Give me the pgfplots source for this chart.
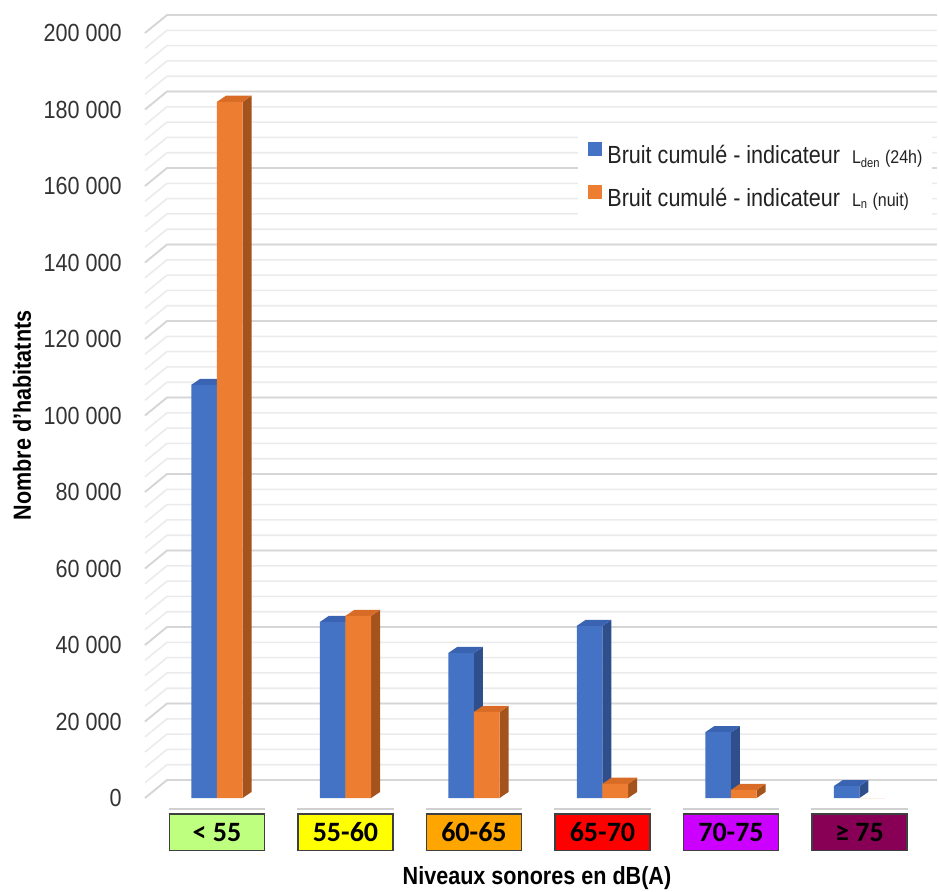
\documentclass[border=0pt]{standalone}
\usepackage{fontspec}
\setmainfont{Liberation Sans}[FakeStretch=0.87]
\newfontfamily\catfont{Carlito}
\usepackage{pgfplots}
\usepackage{pgfplotstable}
\pgfplotsset{compat=1.18}

% colours
\definecolor{barblue}{HTML}{4472C4}
\definecolor{bluetop}{HTML}{3A63B2}
\definecolor{blueside}{HTML}{2E4F8C}
\definecolor{barorange}{HTML}{ED7D31}
\definecolor{orangetop}{HTML}{D86C26}
\definecolor{orangeside}{HTML}{A5531D}
\definecolor{gridmajor}{HTML}{D6D6D6}
\definecolor{gridminor}{HTML}{EBEBEB}
\definecolor{floorline}{HTML}{D0D0D0}
\definecolor{ticktext}{HTML}{333333}
\definecolor{legendtext}{HTML}{222222}
\definecolor{boxline}{HTML}{3F3F3F}
\definecolor{cat1}{HTML}{BFFF80}
\definecolor{cat2}{HTML}{FFFF00}
\definecolor{cat3}{HTML}{FFA500}
\definecolor{cat4}{HTML}{FF0000}
\definecolor{cat5}{HTML}{CC00FF}
\definecolor{cat6}{HTML}{880055}

\newcommand\chartfont{\fontsize{12.4}{14.5}\selectfont}
\newcommand\indfont{\fontsize{9.2}{11}\selectfont}

% population exposed per noise band (Lden and Ln)
\pgfplotstableread{
x lden ln
0 108000 182000
1 46000 47600
2 37900 22500
3 45000 3700
4 17200 2100
5 3100 0
}\noisetable

% coloured category label with the floor edge above it
\newcommand\catbox[2]{%
  \vbox{\offinterlineskip
    \hbox{\textcolor{floorline}{\rule{48.25pt}{0.8pt}}}%
    \vskip 1.7pt
    \hbox{\setlength\fboxsep{0pt}\setlength\fboxrule{0.75pt}%
      \fcolorbox{boxline}{#1}{\makebox[46.75pt]{\rule[-4.35pt]{0pt}{17.5pt}%
        \catfont\bfseries\fontsize{14}{16}\selectfont\color{black}#2}}}}}

% top and side faces of one bar: #1 row, #2 column, #3 left edge offset, #4 colour prefix
\newcommand\depthfaces[4]{%
  \pgfplotstablegetelem{#1}{#2}\of\noisetable
  \edef\barval{\pgfplotsretval}%
  \ifnum\barval>0
    \pgfmathsetmacro\xa{#1+#3}%
    \pgfmathsetmacro\xb{#1+#3+0.2}%
    \pgfmathsetmacro\xc{\xa+0.07}%
    \pgfmathsetmacro\xd{\xb+0.07}%
    \edef\backval{\the\numexpr\barval+1600\relax}%
    \edef\drawfaces{%
      \noexpand\addplot[forget plot, draw=none, fill=#4side]
        coordinates {(\xb,0) (\xd,1600) (\xd,\backval) (\xb,\barval)};%
      \noexpand\addplot[forget plot, draw=none, fill=#4top]
        coordinates {(\xa,\barval) (\xb,\barval) (\xd,\backval) (\xc,\backval)};%
    }\drawfaces
  \fi
}

\begin{document}
\begin{tikzpicture}[font=\chartfont]
\begin{axis}[
  at={(72.5pt,46.5pt)}, anchor=south west,
  width=385pt, height=382.5pt, scale only axis,
  xmin=-0.56, xmax=5.432, ymin=0, ymax=200000,
  clip=false,
  axis line style={draw=none},
  major tick length=0pt, minor tick length=0pt,
  xtick={0,1,2,3,4,5},
  xticklabels={\catbox{cat1}{< 55},\catbox{cat2}{55-60},\catbox{cat3}{60-65},
               \catbox{cat4}{65-70},\catbox{cat5}{70-75},\catbox{cat6}{≥ 75}},
  xticklabel style={anchor=north, inner sep=0pt, yshift=-5pt},
  ytick={0,20000,40000,60000,80000,100000,120000,140000,160000,180000,200000},
  yticklabels={0,20 000,40 000,60 000,80 000,100 000,120 000,140 000,160 000,180 000,200 000},
  yticklabel style={anchor=east, inner sep=0pt, xshift=-11.5pt, text=ticktext, font=\chartfont},
  scaled y ticks=false,
  xlabel={Niveaux sonores en dB(A)},
  ylabel={Nombre d\symbol{39}habitatnts},
  every axis x label/.style={at={(rel axis cs:0.5,0)}, xshift=3.5pt, yshift=-40pt,
    anchor=center, font=\chartfont\bfseries},
  every axis y label/.style={at={(rel axis cs:0,0.5)}, xshift=-61.5pt,
    anchor=center, rotate=90, font=\chartfont\bfseries},
  legend cell align=left,
  legend style={at={(rel axis cs:0.5753,0.8614)}, anchor=north west,
    xshift=-5pt, yshift=3.5pt, draw=none, fill=white,
    inner xsep=5pt, inner ysep=5pt, font=\chartfont, text=legendtext,
    row sep=9pt, nodes={inner sep=0pt},
    /tikz/every odd column/.style={column sep=2.5pt}},
]
% back wall grid, drawn with its slanted left edge
\pgfplotsinvokeforeach{0,...,50}{%
  \draw[gridminor, line width=0.8pt] (rel axis cs:0,#1/50) -- ++(11pt,9pt)
    -- ([shift={(11pt,9pt)}]rel axis cs:1,#1/50);
}
\pgfplotsinvokeforeach{0,5,...,50}{%
  \draw[gridmajor, line width=0.9pt] (rel axis cs:0,#1/50) -- ++(11pt,9pt)
    -- ([shift={(11pt,9pt)}]rel axis cs:1,#1/50);
}

% Lden bars
\pgfplotsinvokeforeach{0,...,5}{\depthfaces{#1}{lden}{-0.2}{blue}}
\addplot[ybar, bar width=0.2, bar shift=-0.1, fill=barblue, draw=none,
  legend image code/.code={\fill[barblue] (0pt,0pt) rectangle (7pt,7pt);}]
  table[x=x, y=lden] {\noisetable};
\addlegendentry{\raisebox{0pt}[9pt][3pt]{Bruit cumulé - indicateur\hspace{6pt}{\indfont L\textsubscript{den} (24h)}}}

% Ln bars
\pgfplotsinvokeforeach{0,...,5}{\depthfaces{#1}{ln}{0}{orange}}
\addplot[ybar, bar width=0.2, bar shift=0.1, fill=barorange, draw=none,
  legend image code/.code={\fill[barorange] (0pt,0pt) rectangle (7pt,7pt);}]
  table[x=x, y=ln] {\noisetable};
\addlegendentry{\raisebox{0pt}[9pt][3pt]{Bruit cumulé - indicateur\hspace{6pt}{\indfont L\textsubscript{n} (nuit)}}}
\end{axis}
\pgfresetboundingbox
\useasboundingbox (0,0) rectangle (469.5pt,445.5pt);
\end{tikzpicture}
\end{document}
